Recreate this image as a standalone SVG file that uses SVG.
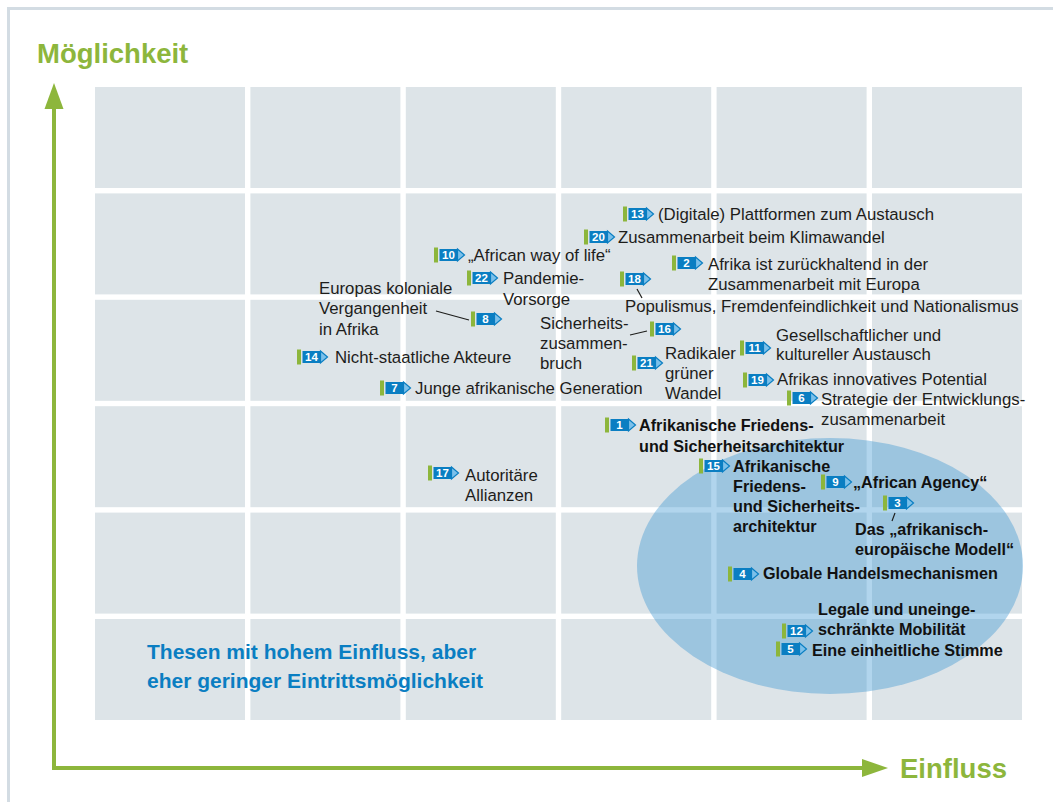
<svg xmlns="http://www.w3.org/2000/svg" xmlns:xlink="http://www.w3.org/1999/xlink" width="1053" height="802" viewBox="0 0 1053 802">
<style>
.cell{fill:#dde4e8}
.lbl{font-family:"Liberation Sans",Arial,sans-serif;font-size:16.8px;fill:#1d1d1b}
.b{font-family:"Liberation Sans",Arial,sans-serif;font-size:16.2px;font-weight:bold;fill:#111}
.num{font-family:"Liberation Sans",Arial,sans-serif;font-size:11.5px;font-weight:bold;fill:#fff;text-anchor:middle}
.axis{font-family:"Liberation Sans",Arial,sans-serif;font-size:27.5px;font-weight:bold;fill:#8db63c}
.note{font-family:"Liberation Sans",Arial,sans-serif;font-size:21px;font-weight:bold;fill:#0a7ec2}
.conn{stroke:#1d1d1b;stroke-width:1.2;fill:none}
</style>
<defs>
<g id="mk">
<rect x="0" y="-7.5" width="4" height="15" fill="#8db63c"/>
<rect x="5.5" y="-6" width="18" height="12" fill="#0a7ec2"/>
<polygon points="23.5,-6 30.5,0 23.5,6" fill="#7cc0ea" stroke="#0a7ec2" stroke-width="1.2"/>
</g>
</defs>
<rect width="1053" height="802" fill="#fff"/>
<path d="M8.5,802 V8.5 H1053" fill="none" stroke="#d3dce3" stroke-width="3"/>
<g id="grid">
<rect class="cell" x="95" y="87" width="150" height="101"/><rect class="cell" x="250.4" y="87" width="150" height="101"/><rect class="cell" x="405.8" y="87" width="150" height="101"/><rect class="cell" x="561.2" y="87" width="150" height="101"/><rect class="cell" x="716.6" y="87" width="150" height="101"/><rect class="cell" x="872" y="87" width="150" height="101"/>
<rect class="cell" x="95" y="193.4" width="150" height="101"/><rect class="cell" x="250.4" y="193.4" width="150" height="101"/><rect class="cell" x="405.8" y="193.4" width="150" height="101"/><rect class="cell" x="561.2" y="193.4" width="150" height="101"/><rect class="cell" x="716.6" y="193.4" width="150" height="101"/><rect class="cell" x="872" y="193.4" width="150" height="101"/>
<rect class="cell" x="95" y="299.8" width="150" height="101"/><rect class="cell" x="250.4" y="299.8" width="150" height="101"/><rect class="cell" x="405.8" y="299.8" width="150" height="101"/><rect class="cell" x="561.2" y="299.8" width="150" height="101"/><rect class="cell" x="716.6" y="299.8" width="150" height="101"/><rect class="cell" x="872" y="299.8" width="150" height="101"/>
<rect class="cell" x="95" y="406.2" width="150" height="101"/><rect class="cell" x="250.4" y="406.2" width="150" height="101"/><rect class="cell" x="405.8" y="406.2" width="150" height="101"/><rect class="cell" x="561.2" y="406.2" width="150" height="101"/><rect class="cell" x="716.6" y="406.2" width="150" height="101"/><rect class="cell" x="872" y="406.2" width="150" height="101"/>
<rect class="cell" x="95" y="512.6" width="150" height="101"/><rect class="cell" x="250.4" y="512.6" width="150" height="101"/><rect class="cell" x="405.8" y="512.6" width="150" height="101"/><rect class="cell" x="561.2" y="512.6" width="150" height="101"/><rect class="cell" x="716.6" y="512.6" width="150" height="101"/><rect class="cell" x="872" y="512.6" width="150" height="101"/>
<rect class="cell" x="95" y="619" width="150" height="101"/><rect class="cell" x="250.4" y="619" width="150" height="101"/><rect class="cell" x="405.8" y="619" width="150" height="101"/><rect class="cell" x="561.2" y="619" width="150" height="101"/><rect class="cell" x="716.6" y="619" width="150" height="101"/><rect class="cell" x="872" y="619" width="150" height="101"/>
</g>
<ellipse id="zone" cx="830" cy="566" rx="193" ry="128" fill="rgb(60,150,210)" fill-opacity="0.4"/>
<g id="axes">
<line x1="54" y1="768" x2="54" y2="104" stroke="#8db63c" stroke-width="4"/>
<polygon points="44.5,109 54,83 63.5,109" fill="#8db63c"/>
<line x1="52" y1="768" x2="866" y2="768" stroke="#8db63c" stroke-width="4"/>
<polygon points="862,759 888,768 862,777" fill="#8db63c"/>
<text class="axis" x="37" y="63">Möglichkeit</text>
<text class="axis" x="900" y="778">Einfluss</text>
</g>
<text class="note" x="147" y="659">Thesen mit hohem Einfluss, aber</text>
<text class="note" x="147" y="688">eher geringer Eintrittsmöglichkeit</text>
<g id="connectors">
<line class="conn" x1="637" y1="289" x2="642" y2="298"/>
<line class="conn" x1="436" y1="311" x2="469" y2="320"/>
<line class="conn" x1="630" y1="335" x2="647" y2="331"/>
<line class="conn" x1="895" y1="513" x2="892" y2="521"/>
</g>
<g id="n13"><g transform="translate(623,214)"><use xlink:href="#mk"/><text class="num" x="14.5" y="4.2">13</text></g><text class="lbl" x="658" y="220">(Digitale) Plattformen zum Austausch</text></g>
<g id="n20"><g transform="translate(584,237)"><use xlink:href="#mk"/><text class="num" x="14.5" y="4.2">20</text></g><text class="lbl" x="618" y="243">Zusammenarbeit beim Klimawandel</text></g>
<g id="n10"><g transform="translate(434,255)"><use xlink:href="#mk"/><text class="num" x="14.5" y="4.2">10</text></g><text class="lbl" x="468" y="261">„African way of life“</text></g>
<g id="n2"><g transform="translate(672,263)"><use xlink:href="#mk"/><text class="num" x="14.5" y="4.2">2</text></g><text class="lbl" x="708" y="270">Afrika ist zurückhaltend in der</text><text class="lbl" x="708" y="290">Zusammenarbeit mit Europa</text></g>
<g id="n22"><g transform="translate(467,278)"><use xlink:href="#mk"/><text class="num" x="14.5" y="4.2">22</text></g><text class="lbl" x="503" y="284">Pandemie-</text><text class="lbl" x="503" y="305">Vorsorge</text></g>
<g id="n18"><g transform="translate(620,279)"><use xlink:href="#mk"/><text class="num" x="14.5" y="4.2">18</text></g><text class="lbl" x="625" y="312">Populismus, Fremdenfeindlichkeit und Nationalismus</text></g>
<g id="n8"><g transform="translate(471,319)"><use xlink:href="#mk"/><text class="num" x="14.5" y="4.2">8</text></g><text class="lbl" x="319" y="294">Europas koloniale</text><text class="lbl" x="319" y="314">Vergangenheit</text><text class="lbl" x="319" y="335">in Afrika</text></g>
<g id="n16"><g transform="translate(650,329)"><use xlink:href="#mk"/><text class="num" x="14.5" y="4.2">16</text></g><text class="lbl" x="540" y="329">Sicherheits-</text><text class="lbl" x="540" y="349">zusammen-</text><text class="lbl" x="540" y="369">bruch</text></g>
<g id="n11"><g transform="translate(740,348)"><use xlink:href="#mk"/><text class="num" x="14.5" y="4.2">11</text></g><text class="lbl" x="776" y="341">Gesellschaftlicher und</text><text class="lbl" x="776" y="360">kultureller Austausch</text></g>
<g id="n14"><g transform="translate(297,357)"><use xlink:href="#mk"/><text class="num" x="14.5" y="4.2">14</text></g><text class="lbl" x="335" y="363">Nicht-staatliche Akteure</text></g>
<g id="n21"><g transform="translate(632,363)"><use xlink:href="#mk"/><text class="num" x="14.5" y="4.2">21</text></g><text class="lbl" x="665" y="359">Radikaler</text><text class="lbl" x="665" y="379">grüner</text><text class="lbl" x="665" y="399">Wandel</text></g>
<g id="n19"><g transform="translate(743,380)"><use xlink:href="#mk"/><text class="num" x="14.5" y="4.2">19</text></g><text class="lbl" x="777" y="385">Afrikas innovatives Potential</text></g>
<g id="n7"><g transform="translate(380,388)"><use xlink:href="#mk"/><text class="num" x="14.5" y="4.2">7</text></g><text class="lbl" x="415" y="394">Junge afrikanische Generation</text></g>
<g id="n6"><g transform="translate(787,398)"><use xlink:href="#mk"/><text class="num" x="14.5" y="4.2">6</text></g><text class="lbl" x="821" y="405">Strategie der Entwicklungs-</text><text class="lbl" x="821" y="425">zusammenarbeit</text></g>
<g id="n1"><g transform="translate(605,425)"><use xlink:href="#mk"/><text class="num" x="14.5" y="4.2">1</text></g><text class="b" x="639" y="431">Afrikanische Friedens-</text><text class="b" x="639" y="452">und Sicherheitsarchitektur</text></g>
<g id="n15"><g transform="translate(699,466)"><use xlink:href="#mk"/><text class="num" x="14.5" y="4.2">15</text></g><text class="b" x="733" y="472">Afrikanische</text><text class="b" x="733" y="492">Friedens-</text><text class="b" x="733" y="512">und Sicherheits-</text><text class="b" x="733" y="532">architektur</text></g>
<g id="n17"><g transform="translate(428,473)"><use xlink:href="#mk"/><text class="num" x="14.5" y="4.2">17</text></g><text class="lbl" x="465" y="481">Autoritäre</text><text class="lbl" x="465" y="501">Allianzen</text></g>
<g id="n9"><g transform="translate(821,482)"><use xlink:href="#mk"/><text class="num" x="14.5" y="4.2">9</text></g><text class="b" x="853" y="488">„African Agency“</text></g>
<g id="n3"><g transform="translate(883,503)"><use xlink:href="#mk"/><text class="num" x="14.5" y="4.2">3</text></g><text class="b" x="855" y="535">Das „afrikanisch-</text><text class="b" x="855" y="555">europäische Modell“</text></g>
<g id="n4"><g transform="translate(728,574)"><use xlink:href="#mk"/><text class="num" x="14.5" y="4.2">4</text></g><text class="b" x="763" y="579">Globale Handelsmechanismen</text></g>
<g id="n12"><g transform="translate(782,631)"><use xlink:href="#mk"/><text class="num" x="14.5" y="4.2">12</text></g><text class="b" x="818" y="615">Legale und uneinge-</text><text class="b" x="818" y="635">schränkte Mobilität</text></g>
<g id="n5"><g transform="translate(776,649)"><use xlink:href="#mk"/><text class="num" x="14.5" y="4.2">5</text></g><text class="b" x="812" y="656">Eine einheitliche Stimme</text></g>
</svg>
